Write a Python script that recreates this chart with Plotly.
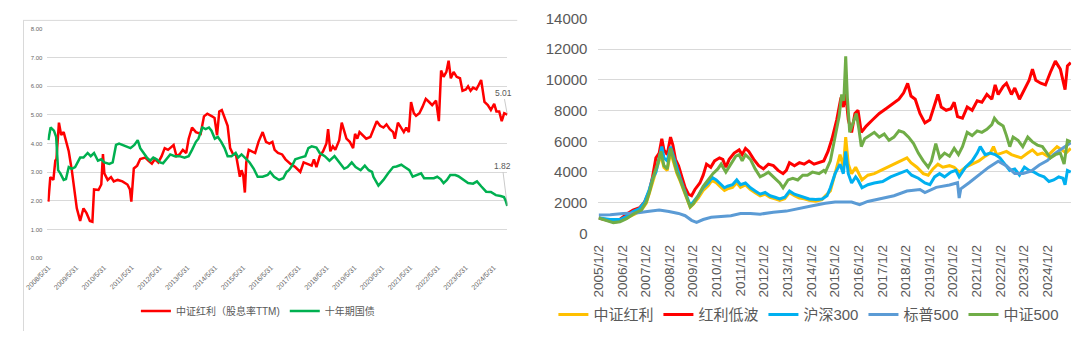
import pandas as pd
import plotly.graph_objects as go

# ---------------- Left chart data: CSI Dividend yield (TTM) vs 10Y CGB ----------------
div_yield_t = [2008.41,2008.48,2008.59,2008.66,2008.70,2008.79,2008.87,2008.96,2009.14,2009.25,2009.37,2009.43,2009.55,2009.67,2009.78,2009.90,2009.99,2010.05,2010.21,2010.31,2010.37,2010.42,2010.54,2010.66,2010.76,2010.90,2011.07,2011.25,2011.34,2011.39,2011.48,2011.60,2011.71,2011.89,2012.01,2012.13,2012.24,2012.36,2012.48,2012.59,2012.71,2012.83,2012.91,2013.01,2013.12,2013.24,2013.36,2013.45,2013.57,2013.71,2013.88,2014.00,2014.12,2014.29,2014.38,2014.47,2014.55,2014.64,2014.76,2014.85,2014.94,2015.05,2015.15,2015.23,2015.29,2015.35,2015.41,2015.47,2015.52,2015.61,2015.72,2015.84,2015.96,2016.11,2016.23,2016.35,2016.46,2016.54,2016.66,2016.81,2016.93,2017.11,2017.28,2017.46,2017.58,2017.75,2017.87,2017.95,2018.04,2018.16,2018.28,2018.40,2018.46,2018.54,2018.63,2018.72,2018.86,2018.95,2019.04,2019.12,2019.24,2019.36,2019.43,2019.51,2019.59,2019.71,2019.83,2019.98,2020.09,2020.21,2020.33,2020.45,2020.56,2020.68,2020.80,2020.86,2020.97,2021.09,2021.18,2021.27,2021.36,2021.44,2021.54,2021.62,2021.74,2021.85,2021.97,2022.09,2022.20,2022.34,2022.44,2022.52,2022.61,2022.71,2022.79,2022.87,2022.97,2023.08,2023.20,2023.29,2023.41,2023.49,2023.58,2023.67,2023.79,2023.88,2023.96,2024.08,2024.20,2024.31,2024.43,2024.51,2024.61,2024.70,2024.79,2024.90]
div_yield_v = [1.97,2.83,2.73,3.40,3.46,4.73,4.30,4.40,3.73,3.07,2.18,1.74,1.30,1.74,1.57,1.30,1.27,2.40,2.38,2.57,3.63,2.96,2.73,2.83,2.68,2.73,2.68,2.57,2.40,1.97,3.13,3.23,3.46,3.51,3.40,3.30,3.46,3.34,3.56,3.84,3.78,3.90,3.95,3.56,3.62,3.78,3.67,4.17,4.56,4.40,4.34,4.95,5.04,4.95,4.89,4.29,5.12,5.17,4.89,4.62,3.84,3.62,3.62,3.18,2.84,3.07,2.90,2.29,3.34,3.78,3.73,3.67,4.06,4.40,4.06,4.00,4.06,3.78,3.67,3.62,3.45,3.29,3.18,3.01,3.34,3.29,3.23,3.45,3.18,3.56,3.73,4.00,4.50,3.73,3.90,3.78,4.12,4.73,4.45,4.17,4.06,3.84,4.34,4.17,4.40,4.29,4.17,4.23,4.50,4.78,4.62,4.56,4.67,4.50,4.40,4.17,4.73,4.56,4.40,4.56,4.40,5.45,5.06,4.97,5.06,5.28,5.56,5.45,5.34,5.50,4.78,6.55,6.33,6.50,6.89,6.28,6.50,6.33,6.28,5.84,5.89,6.00,5.84,5.95,5.89,6.06,6.22,5.45,5.34,5.17,5.39,5.12,5.12,4.78,5.06,5.01]

bond_t = [2008.41,2008.49,2008.61,2008.69,2008.76,2008.84,2008.96,2009.04,2009.14,2009.25,2009.37,2009.55,2009.67,2009.82,2009.93,2010.05,2010.19,2010.31,2010.42,2010.60,2010.72,2010.84,2010.95,2011.07,2011.19,2011.36,2011.50,2011.62,2011.71,2011.83,2011.95,2012.07,2012.18,2012.30,2012.42,2012.53,2012.65,2012.79,2012.95,2013.12,2013.30,2013.45,2013.57,2013.71,2013.80,2013.94,2014.06,2014.18,2014.27,2014.39,2014.50,2014.62,2014.74,2014.85,2014.99,2015.14,2015.23,2015.35,2015.47,2015.64,2015.79,2015.93,2016.11,2016.29,2016.38,2016.52,2016.70,2016.85,2016.97,2017.05,2017.17,2017.28,2017.46,2017.64,2017.75,2017.87,2018.04,2018.16,2018.34,2018.51,2018.69,2018.86,2019.04,2019.16,2019.31,2019.45,2019.63,2019.78,2019.92,2020.04,2020.09,2020.27,2020.45,2020.62,2020.80,2020.92,2021.09,2021.21,2021.38,2021.50,2021.68,2021.80,2021.91,2022.09,2022.26,2022.38,2022.50,2022.61,2022.73,2022.85,2023.03,2023.14,2023.32,2023.49,2023.67,2023.81,2023.96,2024.14,2024.31,2024.49,2024.66,2024.78,2024.84,2024.90]
bond_v = [4.12,4.56,4.45,4.23,3.07,2.96,2.73,2.76,3.18,3.12,3.18,3.51,3.51,3.67,3.56,3.67,3.40,3.45,3.34,3.29,3.34,3.95,4.00,3.95,3.90,3.84,3.95,4.12,3.84,3.67,3.51,3.40,3.51,3.45,3.34,3.31,3.45,3.62,3.56,3.56,3.51,3.56,3.78,4.06,4.17,4.56,4.50,4.56,4.45,4.17,4.23,4.06,3.84,3.56,3.56,3.67,3.51,3.62,3.51,3.34,3.12,2.84,2.84,2.90,3.01,2.84,2.73,2.79,3.01,3.07,3.23,3.45,3.51,3.56,3.84,3.90,3.86,3.67,3.56,3.40,3.56,3.34,3.12,3.18,3.34,3.18,3.07,3.23,3.07,3.01,2.84,2.53,2.73,2.96,3.18,3.20,3.26,3.18,3.07,2.84,2.90,2.96,2.79,2.79,2.79,2.84,2.76,2.62,2.73,2.90,2.90,2.86,2.73,2.62,2.60,2.68,2.51,2.32,2.31,2.20,2.17,2.13,2.01,1.82]

left_tick_dates = ["2008-05-31","2009-05-31","2010-05-31","2011-05-31","2012-05-31","2013-05-31","2014-05-31","2015-05-31","2016-05-31","2017-05-31","2018-05-31","2019-05-31","2020-05-31","2021-05-31","2022-05-31","2023-05-31","2024-05-31"]
left_tick_text = ["2008/5/31","2009/5/31","2010/5/31","2011/5/31","2012/5/31","2013/5/31","2014/5/31","2015/5/31","2016/5/31","2017/5/31","2018/5/31","2019/5/31","2020/5/31","2021/5/31","2022/5/31","2023/5/31","2024/5/31"]

# ---------------- Right chart data: index levels ----------------
hl_t = [2005.01,2005.50,2005.91,2006.19,2006.53,2006.81,2007.02,2007.15,2007.36,2007.50,2007.64,2007.77,2007.91,2008.05,2008.19,2008.32,2008.46,2008.60,2008.74,2008.88,2009.01,2009.22,2009.43,2009.64,2009.80,2009.98,2010.12,2010.33,2010.46,2010.67,2010.85,2011.01,2011.22,2011.43,2011.63,2011.84,2012.05,2012.26,2012.47,2012.67,2012.88,2013.08,2013.29,2013.50,2013.70,2013.91,2014.19,2014.46,2014.60,2014.81,2015.01,2015.22,2015.36,2015.46,2015.57,2015.71,2015.88,2015.98,2016.15,2016.40,2016.67,2016.95,2017.22,2017.50,2017.78,2018.05,2018.22,2018.47,2018.74,2018.95,2019.15,2019.36,2019.57,2019.85,2020.05,2020.26,2020.53,2020.81,2021.09,2021.36,2021.57,2021.71,2021.84,2022.05,2022.26,2022.47,2022.68,2022.88,2023.16,2023.36,2023.57,2023.78,2023.99,2024.19,2024.40,2024.61,2024.78,2024.98]
hl_v = [1000,850,800,1000,1250,1500,1950,2600,3700,4300,5100,4300,4100,5300,4500,3900,3400,2800,2200,1700,1900,2300,2800,3100,3450,3300,3100,2800,2900,3000,3300,3000,3150,2850,2650,2450,2550,2350,2250,2150,2250,2650,2450,2300,2250,2150,2100,2200,2450,2760,3890,5130,4310,6270,4510,3890,4310,3990,3480,3790,3890,4100,4310,4510,4720,4920,4610,4310,3890,3790,4200,4510,4310,4410,4310,3990,4310,4510,4720,5030,5230,5650,5130,5230,5340,5130,5030,4920,5230,5440,5130,5230,5030,5340,5650,5440,5230,5540]

dlv_t = [2005.01,2005.50,2005.77,2006.05,2006.25,2006.46,2006.74,2006.95,2007.15,2007.29,2007.43,2007.57,2007.68,2007.77,2007.91,2008.05,2008.15,2008.26,2008.39,2008.53,2008.67,2008.81,2008.94,2009.08,2009.29,2009.43,2009.57,2009.75,2009.91,2010.12,2010.26,2010.39,2010.53,2010.74,2010.95,2011.08,2011.22,2011.36,2011.57,2011.78,2011.98,2012.19,2012.40,2012.60,2012.81,2012.95,2013.08,2013.29,2013.50,2013.70,2013.91,2014.12,2014.33,2014.53,2014.71,2014.88,2015.08,2015.26,2015.36,2015.46,2015.57,2015.71,2015.85,2015.98,2016.12,2016.33,2016.60,2016.88,2017.16,2017.43,2017.71,2017.91,2018.08,2018.22,2018.40,2018.60,2018.81,2019.02,2019.22,2019.36,2019.50,2019.71,2019.91,2020.05,2020.19,2020.40,2020.60,2020.81,2021.02,2021.22,2021.43,2021.64,2021.78,2021.91,2022.12,2022.26,2022.47,2022.61,2022.81,2023.02,2023.22,2023.36,2023.50,2023.71,2023.91,2024.12,2024.33,2024.54,2024.74,2024.84,2024.98]
dlv_v = [1000,800,760,1110,1310,1520,1670,2040,2760,3680,4920,5230,6160,5440,5130,6270,5750,4820,4410,3680,2970,2550,2450,2860,3280,3790,4510,4310,4720,4920,4820,4310,4820,5230,5440,5130,5540,5340,4820,4410,4200,4510,4410,4100,3890,4100,4610,4410,4610,4510,4720,4510,4610,4720,5340,6160,7400,8850,8230,9100,7400,6580,7810,8020,6580,6990,7400,7810,8120,8430,8740,9160,9780,8950,8740,7810,7200,7400,8430,9050,8230,8020,8120,8540,7610,7500,8230,8020,8640,8540,9050,8740,9670,9050,9570,9780,9050,9470,8740,9360,9980,10700,9980,9780,9670,10500,11220,10700,9360,10910,11120]

hs300_t = [2005.01,2005.50,2005.91,2006.19,2006.46,2006.74,2006.95,2007.15,2007.29,2007.43,2007.57,2007.68,2007.77,2007.91,2008.05,2008.19,2008.32,2008.46,2008.60,2008.74,2008.88,2009.01,2009.22,2009.43,2009.64,2009.80,2009.98,2010.12,2010.33,2010.46,2010.67,2010.85,2011.01,2011.22,2011.43,2011.63,2011.84,2012.05,2012.26,2012.47,2012.67,2012.88,2013.08,2013.29,2013.50,2013.70,2013.91,2014.19,2014.46,2014.67,2014.81,2015.01,2015.22,2015.36,2015.46,2015.57,2015.71,2015.88,2015.98,2016.15,2016.40,2016.67,2017.02,2017.36,2017.71,2018.05,2018.25,2018.53,2018.81,2019.02,2019.22,2019.43,2019.64,2019.91,2020.12,2020.26,2020.53,2020.81,2021.02,2021.15,2021.36,2021.57,2021.78,2021.98,2022.19,2022.40,2022.61,2022.81,2023.02,2023.22,2023.43,2023.65,2023.85,2024.06,2024.26,2024.47,2024.65,2024.74,2024.84,2024.98]
hs300_v = [1000,900,900,1110,1420,1620,2040,2860,3590,3990,4920,5650,4920,4720,5650,4920,4310,3590,2970,2350,1830,2040,2450,2970,3280,3650,3480,3280,2970,3070,3170,3480,3170,3280,2970,2760,2550,2660,2450,2350,2240,2350,2760,2550,2450,2350,2240,2200,2240,2450,2970,3890,4510,3890,5340,3890,3280,3680,3480,2970,3170,3280,3380,3680,3890,4100,3790,3590,3280,3170,3680,3890,3680,3990,4100,3680,4310,4720,5230,5650,5130,5230,5130,4920,4510,4100,4200,3790,4310,4100,3990,3790,3680,3380,3480,3680,3590,3170,4100,3990]

sp500_t = [2005.01,2005.50,2006.05,2006.60,2007.15,2007.57,2007.98,2008.39,2008.67,2008.94,2009.15,2009.43,2009.77,2010.18,2010.60,2011.01,2011.43,2011.84,2012.40,2012.95,2013.50,2014.05,2014.60,2015.01,2015.71,2016.05,2016.39,2016.95,2017.50,2018.05,2018.60,2018.81,2019.29,2019.85,2020.19,2020.26,2020.33,2020.68,2021.09,2021.50,2021.91,2022.26,2022.61,2022.96,2023.30,2023.65,2023.99,2024.26,2024.54,2024.81,2024.98]
sp500_v = [1190,1207,1290,1330,1440,1517,1430,1300,1150,850,720,900,1050,1110,1150,1290,1300,1250,1380,1450,1650,1800,1960,2050,2037,1870,2080,2250,2450,2755,2861,2656,3000,3150,3300,2300,2900,3300,3800,4300,4700,4400,3900,3900,4050,4450,4750,5150,5450,5750,5900]

zz500_t = [2005.01,2005.36,2005.63,2005.91,2006.19,2006.53,2006.81,2007.02,2007.15,2007.36,2007.50,2007.64,2007.77,2007.91,2008.05,2008.19,2008.32,2008.46,2008.60,2008.74,2008.88,2009.01,2009.22,2009.43,2009.64,2009.84,2010.05,2010.19,2010.39,2010.60,2010.81,2010.95,2011.08,2011.22,2011.43,2011.63,2011.84,2011.98,2012.19,2012.40,2012.67,2012.81,2013.02,2013.22,2013.43,2013.64,2013.84,2014.05,2014.33,2014.53,2014.60,2014.81,2015.01,2015.18,2015.29,2015.38,2015.46,2015.53,2015.63,2015.77,2015.91,2016.02,2016.12,2016.26,2016.46,2016.67,2016.88,2017.09,2017.29,2017.50,2017.71,2017.91,2018.12,2018.33,2018.53,2018.74,2018.95,2019.09,2019.27,2019.44,2019.64,2019.85,2020.05,2020.23,2020.40,2020.60,2020.81,2021.02,2021.22,2021.43,2021.64,2021.75,2021.91,2022.12,2022.26,2022.40,2022.54,2022.75,2022.95,2023.16,2023.36,2023.57,2023.78,2023.99,2024.12,2024.33,2024.54,2024.70,2024.84,2024.98]
zz500_v = [1000,840,700,760,960,1310,1520,2040,2660,3890,4510,5340,4410,4200,5540,4720,3990,3480,2860,2240,1730,1930,2450,3070,3480,3890,4200,4510,3990,4510,5030,5130,4720,5130,4820,4200,3680,3790,3990,3680,3280,2970,3480,3590,3480,3790,3790,3990,3890,4100,3990,4720,6160,7610,9050,8640,11530,8850,6580,7200,7810,6780,5650,6160,6370,6580,6270,6470,6060,6270,6680,6580,6270,5850,5230,4720,4310,4720,5850,4920,5230,5030,5540,5130,5650,6580,6370,6680,6580,6780,7090,7500,7200,6990,6370,5650,6270,6060,5650,6270,5960,5750,5650,5230,4920,5130,5230,4510,6060,5960]

right_tick_dates = ["%d-01-02" % y for y in range(2005, 2025)]
right_tick_text = ["%d/1/2" % y for y in range(2005, 2025)]

for a, b in [(div_yield_t, div_yield_v), (bond_t, bond_v), (hl_t, hl_v), (dlv_t, dlv_v),
             (hs300_t, hs300_v), (sp500_t, sp500_v), (zz500_t, zz500_v)]:
    assert len(a) == len(b), (len(a), len(b))


def to_dates(ts):
    out = []
    for t in ts:
        y = int(t)
        out.append(pd.Timestamp(year=y, month=1, day=1) + pd.Timedelta(days=(t - y) * 365.25))
    return out


W, H = 1080, 339
FONT = "Liberation Sans, Arial, Noto Sans CJK SC, sans-serif"

fig = go.Figure()

# left chart
fig.add_trace(go.Scatter(x=to_dates(div_yield_t), y=div_yield_v, mode="lines", name="中证红利（股息率TTM)",
                         line=dict(color="#FF0000", width=2.5), xaxis="x", yaxis="y", legend="legend"))
fig.add_trace(go.Scatter(x=to_dates(bond_t), y=bond_v, mode="lines", name="十年期国债",
                         line=dict(color="#00B050", width=2.5), xaxis="x", yaxis="y", legend="legend"))

# right chart
right_series = [
    ("中证红利", hl_t, hl_v, "#FFC000"),
    ("红利低波", dlv_t, dlv_v, "#FF0000"),
    ("沪深300", hs300_t, hs300_v, "#00B0F0"),
    ("标普500", sp500_t, sp500_v, "#5B9BD5"),
    ("中证500", zz500_t, zz500_v, "#70AD47"),
]
for name, t, v, c in right_series:
    fig.add_trace(go.Scatter(x=to_dates(t), y=v, mode="lines", name=name,
                             line=dict(color=c, width=3), xaxis="x2", yaxis="y2", legend="legend2"))

last_div = to_dates([div_yield_t[-1]])[0]
last_bond = to_dates([bond_t[-1]])[0]

fig.update_layout(
    width=W, height=H, autosize=False,
    margin=dict(l=0, r=0, t=0, b=0),
    paper_bgcolor="white", plot_bgcolor="white",
    font=dict(family=FONT, color="#595959"),
    showlegend=True,
    xaxis=dict(domain=[25 / W, 495 / W], anchor="y", type="date",
               range=["2008-05-18", "2024-11-27"],
               tickvals=left_tick_dates, ticktext=left_tick_text, tickangle=-45,
               tickfont=dict(size=7, color="#666666"),
               showgrid=False, zeroline=False, showline=False, ticks="",
               ticklabelstandoff=3),
    yaxis=dict(domain=[(H - 262.3) / H, (H - 21) / H], anchor="x",
               range=[0, 8], tick0=0, dtick=1, tickformat=".2f",
               tickfont=dict(size=6, color="#666666"),
               gridcolor="#D9D9D9", gridwidth=1, zeroline=False, showline=False,
               ticklabelstandoff=4),
    xaxis2=dict(domain=[588 / W, 1071 / W], anchor="y2", type="date",
                range=["2005-01-01", "2024-12-31"],
                tickvals=right_tick_dates, ticktext=right_tick_text, tickangle=-90,
                tickfont=dict(size=13.5, color="#595959"),
                showgrid=False, zeroline=False, showline=False, ticks="",
                ticklabelstandoff=8),
    yaxis2=dict(domain=[(H - 236.2) / H, (H - 10) / H], anchor="x2",
                range=[0, 14000], tick0=0, dtick=2000, tickformat="d",
                tickfont=dict(size=15, color="#595959"),
                gridcolor="#D9D9D9", gridwidth=1, zeroline=False, showline=False,
                ticklabelstandoff=10),
    legend=dict(orientation="h", x=240 / W, xanchor="center", y=(H - 318) / H, yanchor="middle",
                font=dict(size=10, color="#595959"), bgcolor="rgba(0,0,0,0)"),
    legend2=dict(orientation="h", x=803 / W, xanchor="center", y=(H - 322) / H, yanchor="middle",
                 font=dict(size=15, color="#595959"), bgcolor="rgba(0,0,0,0)"),
    annotations=[
        dict(x=last_div, y=div_yield_v[-1], xref="x", yref="y", text="%.2f" % div_yield_v[-1],
             showarrow=True, arrowhead=0, arrowwidth=0.6, arrowcolor="#A6A6A6",
             ax=-4, ay=-22, font=dict(size=8.5, color="#595959")),
        dict(x=last_bond, y=bond_v[-1], xref="x", yref="y", text="%.2f" % bond_v[-1],
             showarrow=True, arrowhead=0, arrowwidth=0.6, arrowcolor="#A6A6A6",
             ax=-5, ay=-40, font=dict(size=8.5, color="#595959")),
    ],
    shapes=[
        dict(type="line", xref="paper", yref="paper", x0=0, x1=505 / W, y0=(H - 12) / H, y1=(H - 12) / H,
             line=dict(color="#D9D9D9", width=1)),
        dict(type="line", xref="paper", yref="paper", x0=0.5 / W, x1=0.5 / W, y0=0, y1=(H - 12) / H,
             line=dict(color="#D9D9D9", width=1)),
    ],
)

fig.write_html("out.html")
